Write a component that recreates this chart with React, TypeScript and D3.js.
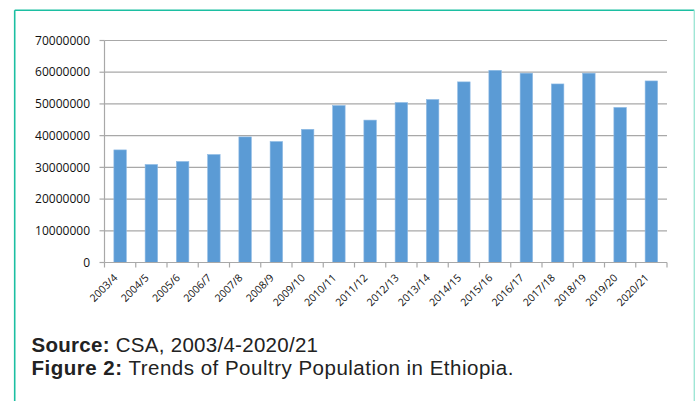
import React from "react";
import * as d3 from "d3";

const categories = ["2003/4","2004/5","2005/6","2006/7","2007/8","2008/9","2009/10","2010/11","2011/12","2012/13","2013/14","2014/15","2015/16","2016/17","2017/18","2018/19","2019/20","2020/21"];
const values = [35500000,30900000,31850000,34050000,39600000,38150000,42000000,49500000,44900000,50450000,51400000,56950000,60600000,59700000,56300000,59700000,48900000,57250000];
const yTicks = [0,10000000,20000000,30000000,40000000,50000000,60000000,70000000];

const W = 695, H = 401;
const left = 104.5, right = 667, top = 40.5, bottom = 262.5;

export default function App() {
  const x = d3.scaleBand<string>().domain(categories).range([left, right]).paddingInner(0.6).paddingOuter(0.3);
  const y = d3.scaleLinear().domain([0, 70000000]).range([bottom, top]);
  const step = (right - left) / categories.length;
  const font = "'Open Sans', 'Liberation Sans', sans-serif";
  const capFont = "'Liberation Sans', Arial, sans-serif";
  return (
    <svg width={W} height={H} style={{ position: "absolute", left: 0, top: 0, background: "#fff" }} fontFamily={font}>
      <line x1={14.7} y1={10.3} x2={694.3} y2={10.3} stroke="#1cbfa2" strokeWidth={1.6} />
      <line x1={14.7} y1={10.3} x2={14.7} y2={H} stroke="#1cbfa2" strokeWidth={1.6} />
      <line x1={694.3} y1={10.3} x2={694.3} y2={H} stroke="#9fe6d6" strokeWidth={1.4} />
      {yTicks.map((t) => (
        <g key={t}>
          {t > 0 && <line x1={left} x2={right} y1={y(t)} y2={y(t)} stroke="#a8a8a8" strokeWidth={1.2} />}
          <line x1={left - 5} x2={left} y1={y(t)} y2={y(t)} stroke="#a8a8a8" strokeWidth={1.2} />
          <text x={90} y={y(t)} dy="0.35em" textAnchor="end" fontSize={12} fill="#111">{t}</text>
        </g>
      ))}
      {values.map((v, i) => (
        <rect key={categories[i]} x={x(categories[i])} y={y(v)} width={x.bandwidth()} height={bottom - y(v)} fill="#5b9bd5" stroke="#8fbbe4" strokeWidth={0.6} />
      ))}
      <line x1={left} x2={left} y1={top} y2={bottom} stroke="#a8a8a8" strokeWidth={1.2} />
      <line x1={left} x2={right} y1={bottom} y2={bottom} stroke="#a8a8a8" strokeWidth={1.2} />
      {d3.range(categories.length + 1).map((i) => (
        <line key={i} x1={left + i * step} x2={left + i * step} y1={bottom} y2={bottom + 5} stroke="#a8a8a8" strokeWidth={1.2} />
      ))}
      {categories.map((c) => {
        const cx = (x(c) as number) + x.bandwidth() / 2;
        return (
          <text key={c} transform={`translate(${cx - 2},${bottom + 16}) rotate(-45)`} textAnchor="end" fontSize={10.5} fill="#111">{c}</text>
        );
      })}
      <text x={31.5} y={352} fontSize={20.5} letterSpacing={0.28} fill="#222" fontFamily={capFont}>
        <tspan fontWeight="bold">Source:</tspan> CSA, 2003/4-2020/21
      </text>
      <text x={31.5} y={375} fontSize={20.5} letterSpacing={0.5} fill="#222" fontFamily={capFont}>
        <tspan fontWeight="bold">Figure 2:</tspan> Trends of Poultry Population in Ethiopia.
      </text>
    </svg>
  );
}
